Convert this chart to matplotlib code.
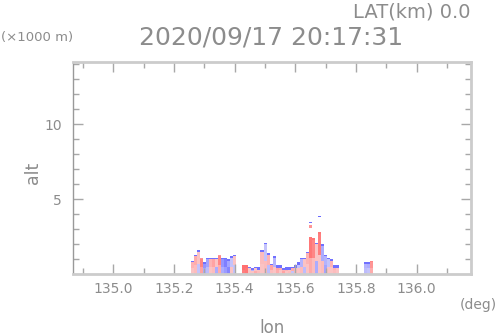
import numpy as np
import matplotlib
matplotlib.use("Agg")
import matplotlib.pyplot as plt
from matplotlib.colors import LinearSegmentedColormap

# ---- data ----
lon_centers = [135.26, 135.27, 135.28, 135.29, 135.30, 135.31, 135.32, 135.33, 135.34, 135.35,
               135.36, 135.37, 135.38, 135.39, 135.40, 135.41, 135.42, 135.43, 135.44, 135.45,
               135.46, 135.47, 135.48, 135.49, 135.50, 135.51, 135.52, 135.53, 135.54, 135.55,
               135.56, 135.57, 135.58, 135.59, 135.60, 135.61, 135.62, 135.63, 135.64, 135.65,
               135.66, 135.67, 135.68, 135.69, 135.70, 135.71, 135.72, 135.73, 135.74, 135.75,
               135.76, 135.77, 135.78, 135.79, 135.80, 135.81, 135.82, 135.83, 135.84, 135.85,
               135.86]
# echo top height per column (km)
top_km = [0.95, 1.3, 1.6, 1.1, 0.85, 1.15, 1.15, 1.1, 1.1, 1.35,
          1.1, 1.1, 1.05, 1.2, 1.35, 0.0, 0.0, 0.6, 0.6, 0.55,
          0.45, 0.55, 0.5, 1.6, 2.1, 1.4, 0.75, 1.2, 0.6, 0.6,
          0.4, 0.5, 0.5, 0.55, 0.6, 0.8, 1.1, 1.15, 1.5, 2.5,
          2.45, 2.1, 2.85, 2.0, 1.3, 1.1, 1.05, 0.6, 0.6, 0.0,
          0.0, 0.0, 0.0, 0.0, 0.0, 0.0, 0.0, 0.85, 0.85, 0.95,
          0.0]
# body value per column (-1 blue ... +1 red)
body_val = [0.4, 0.45, 0.3, 0.7, -0.6, -0.5, 0.4, 0.5, 0.3, 0.7,
            -0.6, -0.75, -0.5, -0.3, 0.3, 0.0, 0.0, 0.85, 0.8, 0.3,
            -0.4, 0.3, 0.3, 0.35, -0.3, 0.4, 0.5, -0.4, 0.5, 0.45,
            0.4, 0.4, 0.3, 0.45, 0.3, -0.3, -0.4, 0.3, 0.4, 0.8,
            0.7, 0.3, 0.75, -0.45, -0.4, -0.3, 0.4, 0.4, 0.3, 0.0,
            0.0, 0.0, 0.0, 0.0, 0.0, 0.0, 0.0, -0.4, -0.45, 0.6,
            0.0]
# lower-part value per column
low_val = [0.3, 0.35, -0.3, 0.5, -0.45, -0.35, 0.3, 0.35, -0.45, 0.45,
           -0.45, -0.55, -0.7, 0.3, -0.3, 0.0, 0.0, 0.75, 0.8, 0.3,
           0.3, 0.45, 0.35, 0.3, 0.35, -0.35, 0.35, 0.3, 0.45, 0.3,
           0.5, 0.3, 0.35, -0.3, 0.35, 0.3, 0.35, -0.35, 0.3, 0.45,
           0.35, -0.45, 0.3, 0.35, -0.5, 0.3, 0.3, 0.35, 0.3, 0.0,
           0.0, 0.0, 0.0, 0.0, 0.0, 0.0, 0.0, -0.35, -0.3, 0.45,
           0.0]
# value of the top edge cell per column
edge_val = [-0.85, -0.85, -0.85, 0.6, -0.85, -0.85, -0.85, -0.85, -0.85, 0.6,
            -0.85, -0.85, -0.85, -0.85, -0.85, 0.0, 0.0, 0.85, 0.85, -0.85,
            -0.85, -0.85, -0.85, -0.85, -0.85, -0.85, -0.85, -0.85, -0.85, -0.85,
            -0.85, -0.85, -0.85, -0.85, -0.85, -0.85, -0.85, -0.85, -0.85, 0.8,
            0.8, -0.85, 0.8, -0.85, -0.85, -0.85, -0.85, -0.85, -0.85, 0.0,
            0.0, 0.0, 0.0, 0.0, 0.0, 0.0, 0.0, -0.85, -0.85, 0.7,
            0.0]
# isolated cells aloft
iso_lon = [135.655, 135.655, 135.655, 135.675]
iso_alt = [3.45, 3.25, 3.15, 3.85]
iso_val = [-0.85, 0.6, 0.6, -0.9]

alt_step = 0.1
xticks_major = [135.0, 135.2, 135.4, 135.6, 135.8, 136.0]
xtick_labels = ["135.0", "135.2", "135.4", "135.6", "135.8", "136.0"]
yticks_major = [5, 10]
ytick_labels = ["5", "10"]

# ---- build grid ----
lon_c = np.array(lon_centers)
dlon = 0.01
lon_edges = np.concatenate([lon_c - dlon / 2, [lon_c[-1] + dlon / 2]])
alt_edges = np.arange(0, 4.2 + 1e-9, alt_step)
alt_c = (alt_edges[:-1] + alt_edges[1:]) / 2
Z = np.full((len(alt_c), len(lon_c)), np.nan)
for i in range(len(lon_c)):
    h = top_km[i]
    for j, a in enumerate(alt_c):
        if a < h:
            if a > h - 0.15:
                Z[j, i] = edge_val[i]
            elif a < h * 0.45:
                Z[j, i] = low_val[i]
            else:
                Z[j, i] = body_val[i]
for lo, al, v in zip(iso_lon, iso_alt, iso_val):
    i = int(np.argmin(np.abs(lon_c - lo)))
    j = int(np.argmin(np.abs(alt_c - al)))
    Z[j, i] = v

cmap = LinearSegmentedColormap.from_list(
    "rb", [(0.0, "#5a5aff"), (0.25, "#a4a4ff"), (0.5, "#f6f2f6"),
           (0.75, "#ffa4a4"), (1.0, "#ff5a5a")])

# ---- figure ----
W, H = 498, 336
fig = plt.figure(figsize=(W / 100, H / 100), dpi=100)
ax = fig.add_axes([73 / W, 1 - 274 / H, (471 - 73) / W, (274 - 62) / H])
ax.pcolormesh(lon_edges, alt_edges, np.ma.masked_invalid(Z), cmap=cmap, vmin=-1, vmax=1,
              shading="flat", edgecolors="none", antialiased=False, linewidth=0)
ax.set_xlim(134.867, 136.179)
ax.set_ylim(0, 14.15)

gray = "#8c8c8c"
ax.set_xticks(xticks_major)
ax.set_xticklabels(xtick_labels)
ax.set_xticks(np.arange(134.9, 136.15, 0.2), minor=True)
ax.set_yticks(yticks_major)
ax.set_yticklabels(ytick_labels)
ax.set_yticks([1, 2, 3, 4, 6, 7, 8, 9, 11, 12, 13, 14], minor=True)
ax.tick_params(which="both", direction="in", top=True, right=True, colors="#a8a8a8",
               labelcolor=gray, width=1)
ax.tick_params(which="major", length=7)
ax.tick_params(which="minor", length=4)
ax.tick_params(axis="x", labelsize=10, pad=6)
ax.tick_params(axis="y", labelsize=10, pad=8)

for s in ["top", "right", "bottom"]:
    ax.spines[s].set_color("#cccccc")
    ax.spines[s].set_linewidth(2)
ax.spines["left"].set_color("#999999")
ax.spines["left"].set_linewidth(1)

def ftxt(x, y, s, **kw):
    fig.text(x / W, 1 - y / H, s, color=gray, **kw)

ftxt(470, 12, "LAT(km) 0.0", ha="right", va="center", fontsize=14)
ftxt(271, 37.5, "2020/09/17 20:17:31", ha="center", va="center", fontsize=18)
ftxt(1, 38, "(\u00d71000 m)", ha="left", va="center", fontsize=9.5)
ftxt(497, 305, "(deg)", ha="right", va="center", fontsize=10)
ftxt(272, 328, "lon", ha="center", va="center", fontsize=12)
ftxt(33, 173, "alt", ha="center", va="center", fontsize=12.5, rotation=90)

fig.savefig("out.png", dpi=100)
